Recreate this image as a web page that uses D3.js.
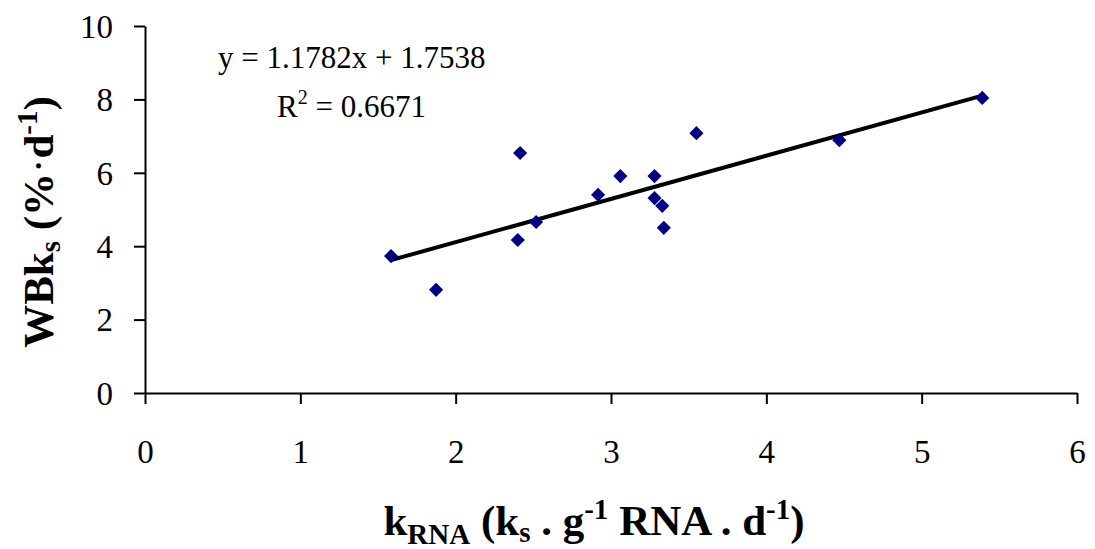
<!DOCTYPE html>
<meta charset="utf-8">
<body style="margin:0;background:#fff">
<script src="https://cdn.jsdelivr.net/npm/d3@7"></script>
<script>
  // data
  var xVals = [1.584, 1.874, 2.415, 2.40, 2.518, 2.917, 3.06, 3.28, 3.28, 3.33, 3.34, 3.55, 4.47, 5.39];
  var yVals = [3.73, 2.81, 6.54, 4.17, 4.66, 5.40, 5.91, 5.91, 5.31, 5.10, 4.50, 7.08, 6.89, 8.04];
  var slope = 1.1782, intercept = 1.7538;
  var xTicks = [0, 1, 2, 3, 4, 5, 6];
  var yTicks = [0, 2, 4, 6, 8, 10];

  var svg = d3.select("body").append("svg")
      .attr("width", 1095)
      .attr("height", 549)
      .style("font-family", "'Liberation Serif', 'Times New Roman', serif");

  var margin = {top: 26, right: 18, bottom: 156, left: 145},
      width = 1095 - margin.left - margin.right,
      height = 549 - margin.top - margin.bottom,
      g = svg.append("g").attr("transform", "translate(" + margin.left + "," + margin.top + ")");

  var x = d3.scaleLinear().domain([0, 6]).range([0, width]);
  var y = d3.scaleLinear().domain([0, 10]).range([height, 0]);

  // axes
  var xAxis = g.append("g")
      .attr("transform", "translate(0," + height + ")")
      .call(d3.axisBottom(x).tickValues(xTicks).tickFormat(d3.format("d"))
        .tickSize(11).tickPadding(36).tickSizeOuter(0));
  var yAxis = g.append("g")
      .call(d3.axisLeft(y).tickValues(yTicks).tickFormat(d3.format("d"))
        .tickSize(11).tickPadding(21).tickSizeOuter(0));

  [xAxis, yAxis].forEach(function(a) {
    a.select(".domain").attr("stroke", "#000").attr("stroke-width", 2);
    a.selectAll(".tick line").attr("stroke", "#000").attr("stroke-width", 2);
    a.selectAll(".tick text")
        .attr("fill", "#000")
        .style("font-family", "'Liberation Serif', serif")
        .style("font-size", "33px");
  });
  yAxis.selectAll(".tick text").attr("dy", "0.34em");

  // trend line
  var xs = d3.extent(xVals);
  g.append("line")
      .attr("x1", x(xs[0])).attr("y1", y(slope * xs[0] + intercept))
      .attr("x2", x(xs[1])).attr("y2", y(slope * xs[1] + intercept))
      .attr("stroke", "#000")
      .attr("stroke-width", 4);

  // points (square turned 45°, like Excel's diamond)
  var marker = d3.symbol().type(d3.symbolSquare).size(100);
  g.selectAll(".pt")
      .data(xVals)
      .enter().append("path")
      .attr("class", "pt")
      .attr("d", marker)
      .attr("transform", function(d, i) { return "translate(" + x(d) + "," + y(yVals[i]) + ") rotate(45)"; })
      .attr("fill", "#000080");

  // equation
  svg.append("text")
      .attr("x", 218).attr("y", 68)
      .style("font-size", "31px")
      .text("y = 1.1782x + 1.7538");
  var r2 = svg.append("text")
      .attr("x", 277).attr("y", 117)
      .style("font-size", "31px");
  r2.append("tspan").text("R");
  r2.append("tspan").attr("dy", -13).style("font-size", "20px").text("2");
  r2.append("tspan").attr("dy", 13).text(" = 0.6671");

  // x title
  var xt = svg.append("text")
      .attr("x", 594).attr("y", 535)
      .attr("text-anchor", "middle")
      .style("font-size", "43px")
      .style("font-weight", "bold");
  xt.append("tspan").text("k");
  xt.append("tspan").attr("dy", 9).style("font-size", "29px").text("RNA");
  xt.append("tspan").attr("dy", -9).text(" (k");
  xt.append("tspan").attr("dy", 7).style("font-size", "29px").text("s");
  xt.append("tspan").attr("dy", -7).text(" . g");
  xt.append("tspan").attr("dy", -16).style("font-size", "29px").text("-1");
  xt.append("tspan").attr("dy", 16).text(" RNA . d");
  xt.append("tspan").attr("dy", -16).style("font-size", "29px").text("-1");
  xt.append("tspan").attr("dy", 16).text(")");

  // y title
  var yt = svg.append("text")
      .attr("transform", "translate(53,222) rotate(-90)")
      .attr("text-anchor", "middle")
      .style("font-size", "43px")
      .style("font-weight", "bold");
  yt.append("tspan").text("WBk");
  yt.append("tspan").attr("dy", 7).style("font-size", "29px").text("s");
  yt.append("tspan").attr("dy", -7).text(" (%");
  yt.append("tspan").style("font-weight", "normal").text("·");
  yt.append("tspan").text("d");
  yt.append("tspan").attr("dy", -16).style("font-size", "29px").text("-1");
  yt.append("tspan").attr("dy", 16).text(")");
</script>
</body>
